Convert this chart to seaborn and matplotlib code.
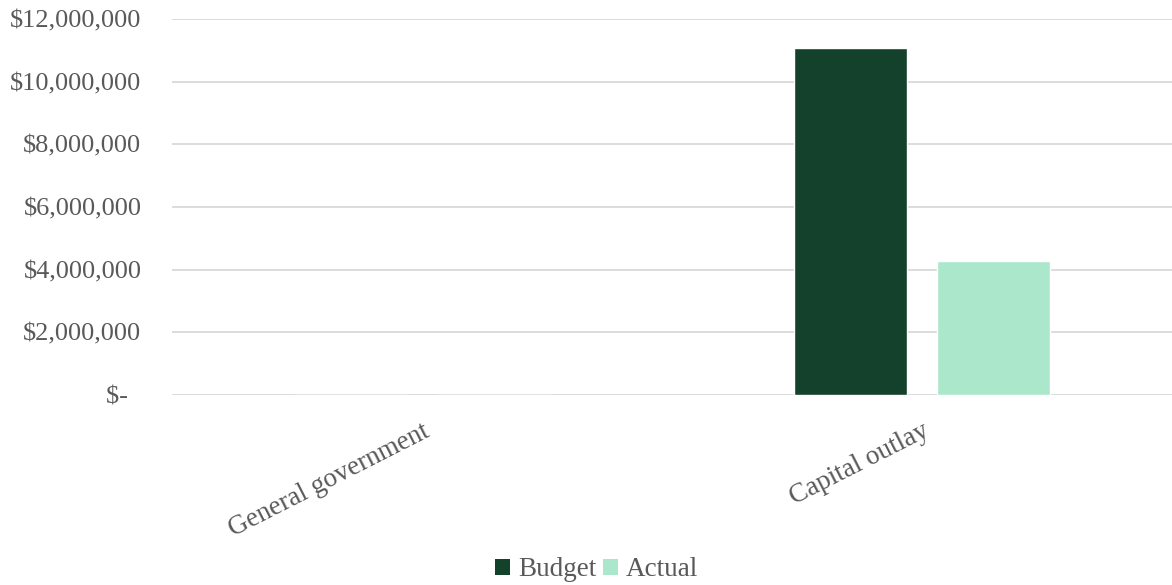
import matplotlib
matplotlib.use("Agg")
import matplotlib.pyplot as plt
import seaborn as sns
import pandas as pd
from matplotlib.patches import Patch

categories = ["General government", "Capital outlay"]
budget = [0, 11070000]
actual = [0, 4290000]
series_names = ["Budget", "Actual"]
tick_values = [0, 2000000, 4000000, 6000000, 8000000, 10000000, 12000000]
tick_labels = ["$-  ", "$2,000,000", "$4,000,000", "$6,000,000",
               "$8,000,000", "$10,000,000", "$12,000,000"]

colors = {"Budget": "#14412B", "Actual": "#ABE8CB"}
text_color = "#595959"

df = pd.DataFrame({
    "category": categories * 2,
    "series": [series_names[0]] * len(categories) + [series_names[1]] * len(categories),
    "value": budget + actual,
})

sns.set_theme(style="white")
plt.rcParams["font.family"] = ["Liberation Serif", "DejaVu Serif"]

fig = plt.figure(figsize=(11.72, 5.85), dpi=100)
ax = fig.add_axes([172 / 1172, 1 - 395 / 585, 1 - 172 / 1172, (395 - 19) / 585])

sns.barplot(data=df, x="category", y="value", hue="series", order=categories,
            hue_order=series_names, palette=colors, width=0.574, gap=0.213,
            saturation=1, legend=False, ax=ax)

ax.set_xlim(-0.5, 1.5)
ax.set_ylim(0, 12000000)
ax.set_yticks(tick_values)
ax.set_yticklabels(tick_labels)
ax.yaxis.grid(True, color="#D9D9D9", linewidth=1.3)
ax.set_axisbelow(True)
for s in ax.spines.values():
    s.set_visible(False)
ax.tick_params(axis="y", length=0, pad=22, labelsize=19, labelcolor=text_color)
ax.tick_params(axis="x", length=0, pad=17, labelsize=19.5, labelcolor=text_color)
for lbl in ax.get_xticklabels():
    lbl.set_rotation(27)
    lbl.set_ha("right")
    lbl.set_rotation_mode("anchor")
ax.set_xlabel("")
ax.set_ylabel("")

handles = [Patch(facecolor=colors[n], edgecolor="none") for n in series_names]
fig.legend(handles, series_names, loc="center", bbox_to_anchor=(0.509, 1 - 570 / 585),
           ncol=2, frameon=False, fontsize=19.5, labelcolor=text_color,
           handlelength=0.55, handleheight=0.55, handletextpad=0.3, columnspacing=0.25)

fig.savefig("out.png", dpi=100, facecolor="white")
